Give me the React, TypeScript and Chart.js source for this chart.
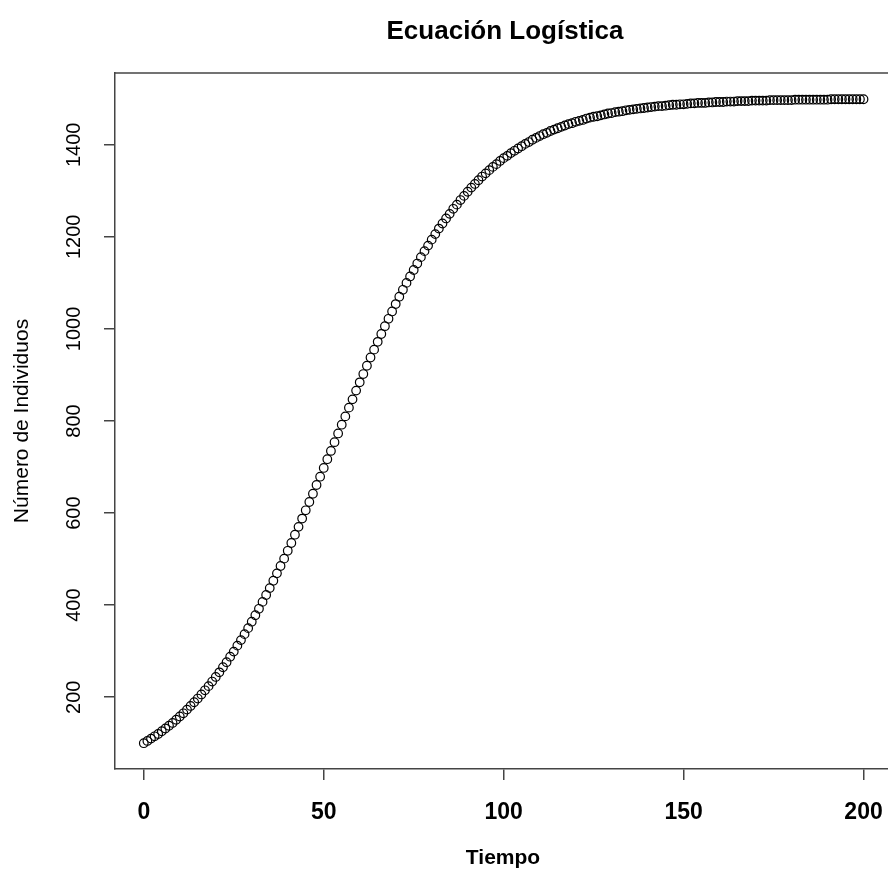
import React, { useEffect, useRef } from "react";
import { Chart, registerables } from "chart.js";

Chart.register(...registerables);

const TITLE = "Ecuación Logística";
const X_LABEL = "Tiempo";
const Y_LABEL = "Número de Individuos";

const X_TICKS = [0, 50, 100, 150, 200];
const Y_TICKS = [200, 400, 600, 800, 1000, 1200, 1400];

const TIEMPO = [
  0, 1, 2, 3, 4, 5, 6, 7, 8, 9, 10, 11, 12, 13, 14, 15, 16, 17, 18, 19,
  20, 21, 22, 23, 24, 25, 26, 27, 28, 29, 30, 31, 32, 33, 34, 35, 36, 37, 38, 39,
  40, 41, 42, 43, 44, 45, 46, 47, 48, 49, 50, 51, 52, 53, 54, 55, 56, 57, 58, 59,
  60, 61, 62, 63, 64, 65, 66, 67, 68, 69, 70, 71, 72, 73, 74, 75, 76, 77, 78, 79,
  80, 81, 82, 83, 84, 85, 86, 87, 88, 89, 90, 91, 92, 93, 94, 95, 96, 97, 98, 99,
  100, 101, 102, 103, 104, 105, 106, 107, 108, 109, 110, 111, 112, 113, 114, 115, 116, 117, 118, 119,
  120, 121, 122, 123, 124, 125, 126, 127, 128, 129, 130, 131, 132, 133, 134, 135, 136, 137, 138, 139,
  140, 141, 142, 143, 144, 145, 146, 147, 148, 149, 150, 151, 152, 153, 154, 155, 156, 157, 158, 159,
  160, 161, 162, 163, 164, 165, 166, 167, 168, 169, 170, 171, 172, 173, 174, 175, 176, 177, 178, 179,
  180, 181, 182, 183, 184, 185, 186, 187, 188, 189, 190, 191, 192, 193, 194, 195, 196, 197, 198, 199,
  200,
];

const INDIVIDUOS = [
  100, 105, 110, 115, 120, 126, 132, 138, 144, 151, 158, 165, 173, 181, 189, 197, 206, 215, 224, 234,
  244, 254, 265, 276, 288, 299, 312, 324, 337, 350, 364, 378, 392, 407, 422, 437, 453, 469, 485, 501,
  518, 535, 553, 570, 588, 606, 624, 642, 661, 679, 698, 717, 735, 754, 773, 792, 810, 829, 847, 866,
  884, 902, 920, 938, 955, 972, 989, 1006, 1022, 1038, 1054, 1070, 1085, 1100, 1114, 1128, 1142, 1156, 1169, 1181,
  1194, 1206, 1218, 1229, 1240, 1250, 1261, 1270, 1280, 1289, 1298, 1307, 1315, 1323, 1331, 1338, 1345, 1352, 1358, 1365,
  1371, 1376, 1382, 1387, 1392, 1397, 1402, 1406, 1411, 1415, 1419, 1423, 1426, 1430, 1433, 1436, 1439, 1442, 1445, 1447,
  1450, 1452, 1454, 1457, 1459, 1461, 1462, 1464, 1466, 1468, 1469, 1471, 1472, 1473, 1475, 1476, 1477, 1478, 1479, 1480,
  1481, 1482, 1483, 1484, 1484, 1485, 1486, 1487, 1487, 1488, 1488, 1489, 1490, 1490, 1491, 1491, 1491, 1492, 1492, 1493,
  1493, 1493, 1494, 1494, 1494, 1495, 1495, 1495, 1495, 1496, 1496, 1496, 1496, 1496, 1497, 1497, 1497, 1497, 1497, 1497,
  1497, 1498, 1498, 1498, 1498, 1498, 1498, 1498, 1498, 1498, 1498, 1499, 1499, 1499, 1499, 1499, 1499, 1499, 1499, 1499,
  1499,
];

const FONT = '"Liberation Sans", Arial, Helvetica, sans-serif';
const AXIS_COLOR = "#444";

const textPlugin = {
  id: "rStyleText",
  afterDraw(chart: any) {
    const { ctx, chartArea: a, scales } = chart;
    const xs = scales.x;
    const ys = scales.y;
    ctx.save();
    // top edge of the plot box
    ctx.strokeStyle = AXIS_COLOR;
    ctx.lineWidth = 1.5;
    ctx.beginPath();
    ctx.moveTo(a.left, a.top);
    ctx.lineTo(chart.width, a.top);
    ctx.stroke();

    ctx.fillStyle = "#000";
    ctx.textAlign = "center";
    ctx.textBaseline = "alphabetic";

    ctx.font = `bold 26px ${FONT}`;
    ctx.fillText(TITLE, 505, 39);

    ctx.font = `bold 23px ${FONT}`;
    X_TICKS.forEach((v) => ctx.fillText(String(v), xs.getPixelForValue(v), 819));

    ctx.font = `bold 21px ${FONT}`;
    ctx.fillText(X_LABEL, 503, 864);

    ctx.font = `20px ${FONT}`;
    Y_TICKS.forEach((v) => {
      ctx.save();
      ctx.translate(80, ys.getPixelForValue(v));
      ctx.rotate(-Math.PI / 2);
      ctx.fillText(String(v), 0, 0);
      ctx.restore();
    });

    ctx.font = `21px ${FONT}`;
    ctx.save();
    ctx.translate(28, (a.top + a.bottom) / 2);
    ctx.rotate(-Math.PI / 2);
    ctx.fillText(Y_LABEL, 0, 0);
    ctx.restore();

    ctx.restore();
  },
};

export default function App() {
  const ref = useRef<HTMLCanvasElement | null>(null);

  useEffect(() => {
    if (!ref.current) return;
    const chart = new Chart(ref.current, {
      type: "scatter",
      data: {
        datasets: [
          {
            data: TIEMPO.map((t, i) => ({ x: t, y: INDIVIDUOS[i] })),
            showLine: false,
            pointStyle: "circle",
            pointRadius: 4.3,
            pointHoverRadius: 4.3,
            pointBorderWidth: 1.2,
            pointBorderColor: "#000",
            pointBackgroundColor: "rgba(0,0,0,0)",
          },
        ],
      },
      options: {
        responsive: false,
        animation: false,
        devicePixelRatio: 1,
        events: [],
        layout: { autoPadding: false, padding: { left: 0, top: 73, right: 0, bottom: 0 } },
        plugins: {
          legend: { display: false },
          tooltip: { enabled: false },
          title: { display: false },
        },
        scales: {
          x: {
            type: "linear",
            min: -8,
            max: 206.8,
            afterBuildTicks: (s: any) => {
              s.ticks = X_TICKS.map((v) => ({ value: v }));
            },
            afterFit: (s: any) => {
              s.height = 109;
              s.paddingLeft = 0;
              s.paddingRight = 0;
            },
            ticks: { display: false },
            grid: {
              drawOnChartArea: false,
              drawTicks: true,
              tickLength: 11,
              color: AXIS_COLOR,
              lineWidth: 1.5,
            },
            border: { display: true, color: AXIS_COLOR, width: 1.5 },
          },
          y: {
            type: "linear",
            min: 44,
            max: 1556,
            afterBuildTicks: (s: any) => {
              s.ticks = Y_TICKS.map((v) => ({ value: v }));
            },
            afterFit: (s: any) => {
              s.width = 115;
              s.paddingTop = 0;
              s.paddingBottom = 0;
            },
            ticks: { display: false },
            grid: {
              drawOnChartArea: false,
              drawTicks: true,
              tickLength: 11,
              color: AXIS_COLOR,
              lineWidth: 1.5,
            },
            border: { display: true, color: AXIS_COLOR, width: 1.5 },
          },
        },
      },
      plugins: [textPlugin],
    });
    return () => chart.destroy();
  }, []);

  return (
    <div style={{ position: "absolute", left: 0, top: 0, width: 888, height: 878, background: "#fff" }}>
      <canvas ref={ref} width={888} height={878} style={{ display: "block" }} />
    </div>
  );
}
